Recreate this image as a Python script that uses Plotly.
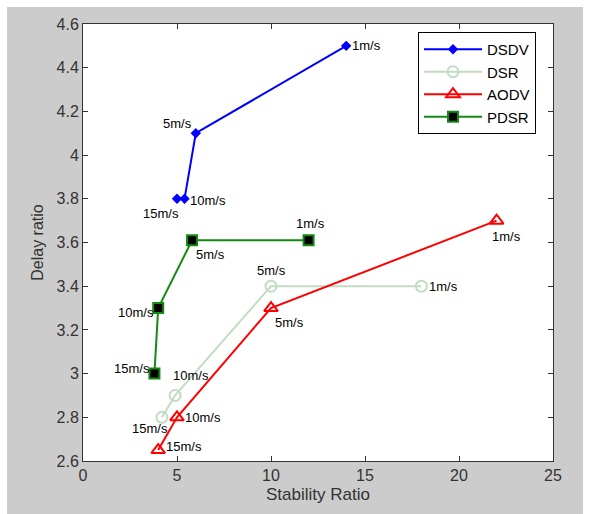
import plotly.graph_objects as go

speeds = ["1m/s", "5m/s", "10m/s", "15m/s"]

dsdv_x = [14, 6, 5.4, 5]
dsdv_y = [4.5, 4.1, 3.8, 3.8]

dsr_x = [18, 10, 4.9, 4.2]
dsr_y = [3.4, 3.4, 2.9, 2.8]

aodv_x = [22, 10, 5, 4]
aodv_y = [3.7, 3.3, 2.8, 2.65]

pdsr_x = [12, 5.8, 4, 3.8]
pdsr_y = [3.61, 3.61, 3.3, 3.0]

x_ticks = [0, 5, 10, 15, 20, 25]
y_ticks = [2.6, 2.8, 3.0, 3.2, 3.4, 3.6, 3.8, 4.0, 4.2, 4.4, 4.6]
y_tick_text = ["2.6", "2.8", "3", "3.2", "3.4", "3.6", "3.8", "4", "4.2", "4.4", "4.6"]

FONT = "Liberation Sans, Arial, sans-serif"

fig = go.Figure()
fig.add_trace(go.Scatter(x=dsdv_x, y=dsdv_y, name="DSDV", mode="lines+markers",
                         line=dict(color="#0000ff", width=2),
                         marker=dict(symbol="diamond", size=8, color="#0000ff")))
fig.add_trace(go.Scatter(x=dsr_x, y=dsr_y, name="DSR", mode="lines+markers",
                         line=dict(color="#c2dcc2", width=2),
                         marker=dict(symbol="circle-open", size=11, color="#c2dcc2",
                                     line=dict(width=2))))
fig.add_trace(go.Scatter(x=aodv_x, y=aodv_y, name="AODV", mode="lines+markers",
                         line=dict(color="#ff0000", width=2),
                         marker=dict(symbol="triangle-up-open", size=12, color="#ff0000",
                                     line=dict(width=2))))
fig.add_trace(go.Scatter(x=pdsr_x, y=pdsr_y, name="PDSR", mode="lines+markers",
                         line=dict(color="#138a13", width=2),
                         marker=dict(symbol="square", size=10, color="#000000",
                                     line=dict(color="#138a13", width=2))))

# label placements: (xanchor, yanchor, xshift, yshift)
place = {
    "dsdv": [("left", "middle", 4, 0), ("right", "bottom", -2, 0), ("left", "middle", 3, -2), ("right", "top", 4, -5)],
    "dsr": [("center", "bottom", 0, 6) if False else ("left", "middle", 6, 0), ("center", "bottom", 0, 6), ("left", "bottom", -4, 10), ("right", "top", 8, -2)],
    "aodv": [("left", "top", -7, -6), ("left", "top", 2, -5), ("left", "middle", 6, 0), ("left", "middle", 6, 4)],
    "pdsr": [("center", "bottom", 2, 7), ("left", "top", 2, -5), ("right", "middle", -2, -4), ("right", "middle", -2, 5)],
}
series = {"dsdv": (dsdv_x, dsdv_y), "dsr": (dsr_x, dsr_y), "aodv": (aodv_x, aodv_y), "pdsr": (pdsr_x, pdsr_y)}
for key, (xs, ys) in series.items():
    for i, lab in enumerate(speeds):
        xa, ya, xs_, ys_ = place[key][i]
        fig.add_annotation(x=xs[i], y=ys[i], xref="x", yref="y", text=lab, showarrow=False,
                           xanchor=xa, yanchor=ya, xshift=xs_, yshift=ys_,
                           font=dict(family=FONT, size=13, color="#000000"))

# gray figure background with white border at top/left/right
fig.add_shape(type="rect", xref="paper", yref="paper",
              x0=(7 - 83) / 470, x1=(583 - 83) / 470,
              y0=(461 - 520) / 437, y1=(461 - 7) / 437,
              fillcolor="#cccccc", line=dict(width=0), layer="below")
# white plot area on top of the gray background
fig.add_shape(type="rect", xref="paper", yref="paper", x0=0, x1=1, y0=0, y1=1,
              fillcolor="#ffffff", line=dict(width=0), layer="below")

axis_common = dict(showline=True, linecolor="#333333", linewidth=1, mirror="ticks",
                   ticks="inside", ticklen=5, tickcolor="#333333", showgrid=False,
                   zeroline=False, tickfont=dict(family=FONT, size=16, color="#333333"))

fig.update_layout(
    width=590, height=514,
    margin=dict(l=83, r=37, t=24, b=53),
    paper_bgcolor="#ffffff", plot_bgcolor="#ffffff",
    font=dict(family=FONT, size=14, color="#333333"),
    xaxis=dict(range=[0, 25], tickvals=x_ticks, title=dict(text="Stability Ratio", standoff=4,
               font=dict(family=FONT, size=17, color="#333333")), **axis_common),
    yaxis=dict(range=[2.6, 4.6], tickvals=y_ticks, ticktext=y_tick_text,
               title=dict(text="Delay ratio", standoff=8,
                          font=dict(family=FONT, size=16, color="#333333")), **axis_common),
    legend=dict(x=(418 - 83) / 470, y=(461 - 32) / 437, xanchor="left", yanchor="top",
                bgcolor="#ffffff", bordercolor="#000000", borderwidth=1, itemwidth=58,
                font=dict(family=FONT, size=15, color="#000000")),
    showlegend=True,
)

fig.write_html("out.html")
